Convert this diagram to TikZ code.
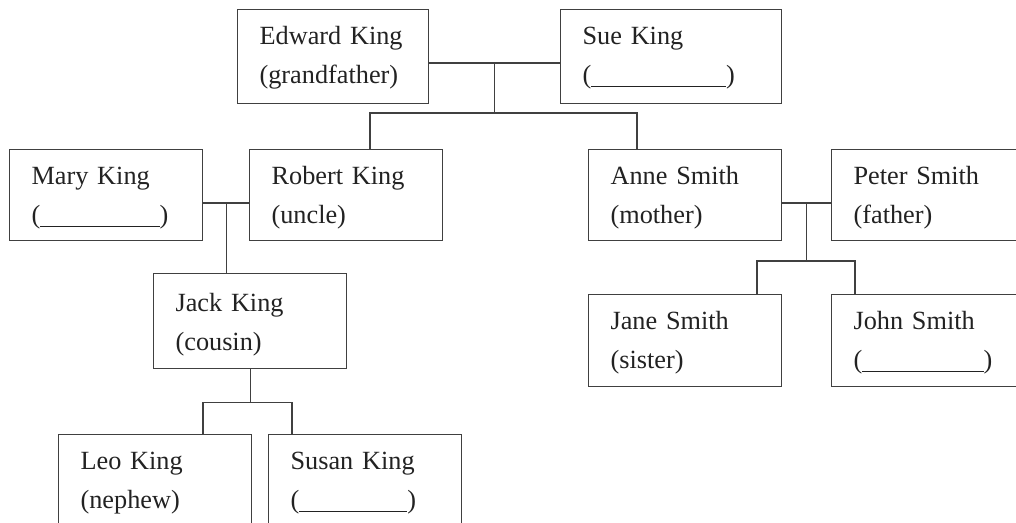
\documentclass[tikz,border=0pt]{standalone}
\usepackage{fontspec}
\setmainfont{Liberation Serif}
\usepackage{xcolor}
\usepackage{tikz}
\usetikzlibrary{calc}

\definecolor{boxline}{HTML}{404040}
\definecolor{txtgray}{HTML}{222222}

\newcommand{\blankfill}[1]{(\rule[-2.4pt]{#1}{0.6pt})}

\tikzset{
  person/.style={draw=boxline, line width=0.9pt, rectangle, anchor=north west,
    inner xsep=16.5pt, inner ysep=0pt, text width=111.75pt, align=left,
    text height=26.25pt, text depth=42pt, text=txtgray,
    font=\fontsize{19.7pt}{29.25pt}\selectfont},
  link/.style={draw=boxline, line width=0.9pt}
}

\begin{document}
\begin{tikzpicture}[x=0.75pt,y=0.75pt,yscale=-1,xscale=1]
  \useasboundingbox (0,0) rectangle (1016,523);
  \clip (0,0) rectangle (1016,523);

  % Text Node: grandparents
  \node[person, text width=110.25pt, text depth=44.25pt] (edward) at (237,9) {Edward King\\(grandfather)};
  \node[person, text width=132.75pt, text depth=44.25pt] (sue) at (560,9) {Sue King\\\blankfill{101pt}};
  % Text Node: second row
  \node[person] (mary) at (9,149) {Mary King\\\blankfill{89.5pt}};
  \node[person] (robert) at (249,149) {Robert King\\(uncle)};
  \node[person] (anne) at (588,149) {Anne Smith\\(mother)};
  \node[person] (peter) at (831,149) {Peter Smith\\(father)};
  % Text Node: third row
  \node[person, text height=28.5pt, text depth=42.75pt] (jack) at (153,273) {Jack King\\(cousin)};
  \node[person, text depth=42.75pt] (jane) at (588,294) {Jane Smith\\(sister)};
  \node[person, text depth=42.75pt] (john) at (831,294) {John Smith\\\blankfill{91pt}};
  % Text Node: bottom row
  \node[person] (leo) at (58,434) {Leo King\\(nephew)};
  \node[person] (susan) at (268,434) {Susan King\\\blankfill{81pt}};

  %Straight Lines: Edward and Sue
  \coordinate (kings) at ($(edward.north east)!0.5!(sue.north west)+(0,54)$);
  \draw[link] (edward.north east |- kings) -- (sue.north west |- kings);
  \draw[link] (kings) -- ++(0,50) coordinate (kingkids);
  \draw[link] ($(robert.north west)+(121,0)$) |- (kingkids) -| ($(anne.north west)+(49,0)$);

  %Straight Lines: Mary and Robert
  \coordinate (roberts) at ($(mary.north east)!0.5!(robert.north west)+(0,54)$);
  \draw[link] (mary.north east |- roberts) -- (robert.north west |- roberts);
  \draw[link] (roberts) -- (roberts |- jack.north);

  %Straight Lines: Anne and Peter
  \coordinate (smiths) at ($(anne.north east)!0.5!(peter.north west)+(0,54)$);
  \draw[link] (anne.north east |- smiths) -- (peter.north west |- smiths);
  \draw[link] (smiths) -- ++(0,58) coordinate (smithkids);
  \draw[link] ($(jane.north west)+(169,0)$) |- (smithkids) -| ($(john.north west)+(24,0)$);

  %Straight Lines: Jack
  \draw[link] (jack.south) -- ++(0,33) coordinate (jackkids);
  \draw[link] ($(leo.north west)+(145,0)$) |- (jackkids) -| ($(susan.north west)+(24,0)$);
\end{tikzpicture}
\end{document}
